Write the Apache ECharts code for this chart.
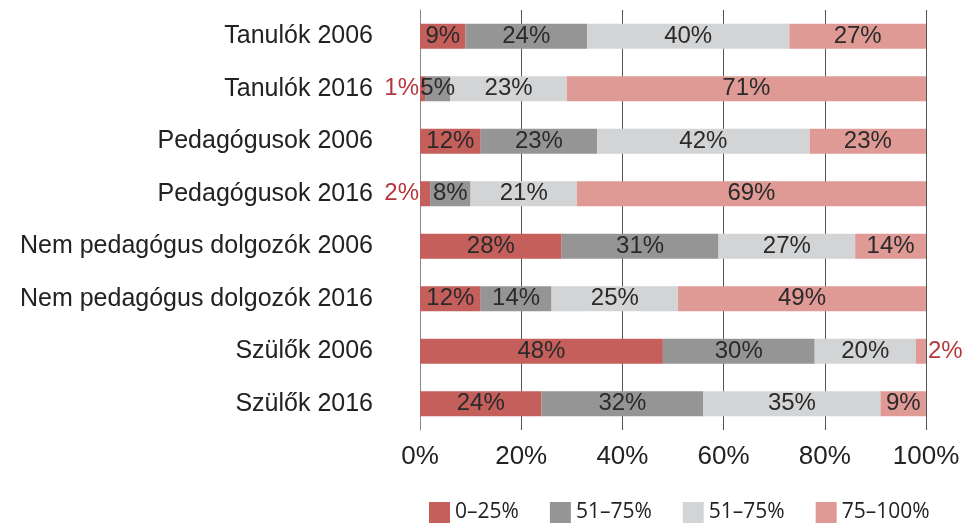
<!DOCTYPE html>
<html lang="hu">

<head>
    <meta charset="UTF-8">
    <title>Chart</title>
    <style>
        html, body { margin: 0; padding: 0; background: #fff; }
        #app { width: 966px; height: 524px; }
    </style>
</head>

<body>
    <div id="app"></div>
</body>
<script src="https://cdn.jsdelivr.net/npm/echarts@6/dist/echarts.min.js"></script>
<script>
    var categories = ['Tanulók 2006', 'Tanulók 2016', 'Pedagógusok 2006', 'Pedagógusok 2016',
        'Nem pedagógus dolgozók 2006', 'Nem pedagógus dolgozók 2016', 'Szülők 2006', 'Szülők 2016'];
    var legendLabels = ['0–25%', '51–75%', '51–75%', '75–100%'];
    var s0 = [9, 1, 12, 2, 28, 12, 48, 24];
    var s1 = [24, 5, 23, 8, 31, 14, 30, 32];
    var s2 = [40, 23, 42, 21, 27, 25, 20, 35];
    var s3 = [27, 71, 23, 69, 14, 49, 2, 9];
    var axisTicks = [0, 20, 40, 60, 80, 100];

    var colors = ['#c45f5c', '#959595', '#d3d4d6', '#df9a96'];
    var seriesValues = [s0, s1, s2, s3];

    var chart = echarts.init(document.getElementById('app'));

    var series = seriesValues.map(function (vals, si) {
        return {
            name: 'k' + si,
            type: 'bar',
            stack: 'total',
            barWidth: 25,
            itemStyle: { color: colors[si] },
            label: {
                show: true,
                position: 'inside',
                formatter: '{c}%',
                fontFamily: 'Liberation Sans',
                fontSize: 24,
                color: '#2a2a2a'
            },
            data: vals.map(function (v) {
                // very small slices get their label outside, in red
                if (v <= 2 && si === 0) {
                    return { value: v, label: { position: 'left', distance: 1, color: '#b5373d' } };
                }
                if (v <= 2 && si === 3) {
                    return { value: v, label: { position: 'right', distance: 2, color: '#b5373d' } };
                }
                return v;
            })
        };
    });

    var option = {
        animation: false,
        grid: { left: 420, right: 40, top: 10, height: 420 },
        legend: {
            data: ['k0', 'k1', 'k2', 'k3'],
            left: 429,
            top: 502,
            padding: 0,
            icon: 'rect',
            itemWidth: 21,
            itemHeight: 21,
            itemGap: 31,
            formatter: function (name) {
                return legendLabels[+name.slice(1)];
            },
            textStyle: { fontFamily: 'Open Sans', fontSize: 21, color: '#222' }
        },
        xAxis: {
            type: 'value',
            min: axisTicks[0],
            max: axisTicks[axisTicks.length - 1],
            interval: 20,
            axisLine: { show: false },
            axisTick: { show: false },
            axisLabel: {
                formatter: '{value}%',
                fontFamily: 'Liberation Sans',
                fontSize: 26,
                color: '#222',
                margin: 14
            },
            splitLine: { lineStyle: { color: '#555', width: 1 } }
        },
        yAxis: {
            type: 'category',
            inverse: true,
            data: categories,
            axisLine: { show: true, lineStyle: { color: '#888' } },
            axisTick: { show: false },
            axisLabel: {
                fontFamily: 'Liberation Sans',
                fontSize: 25,
                color: '#222',
                margin: 47
            }
        },
        series: series
    };
    chart.setOption(option);
</script>

</html>
